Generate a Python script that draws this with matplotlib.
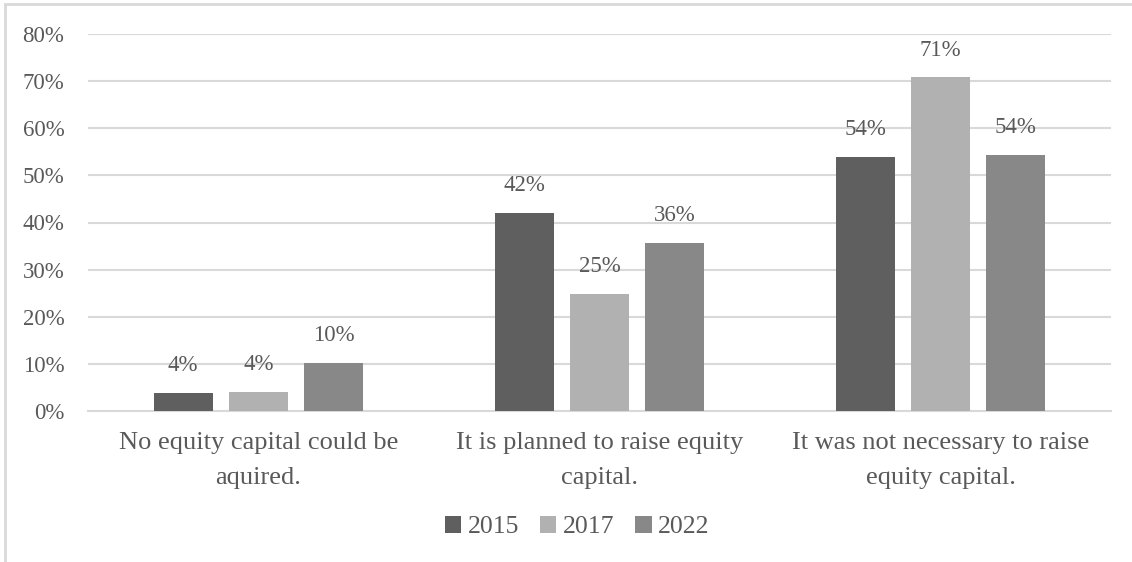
import numpy as np
import matplotlib.pyplot as plt
from matplotlib.patches import Rectangle

plt.rcParams['font.family'] = ['Liberation Serif', 'DejaVu Serif']

categories = ['No equity capital could be\naquired.',
              'It is planned to raise equity\ncapital.',
              'It was not necessary to raise\nequity capital.']
years = ['2015', '2017', '2022']
shares = {
    '2015': [0.039, 0.42, 0.54],
    '2017': [0.041, 0.249, 0.708],
    '2022': [0.102, 0.357, 0.543],
}
colors = ['#5f5f5f', '#b1b1b1', '#888888']
text_col = '#595959'

fig = plt.figure(figsize=(11.32, 5.62), dpi=100)
ax = fig.add_axes([88 / 1132, 1 - 411 / 562, (1111 - 88) / 1132, (411 - 34) / 562])

# outer chart border, running off the right and bottom edges
fig.patches.append(Rectangle((5 / 1132, -0.1), 1.2, 1 - 4 / 562 + 0.1,
                             transform=fig.transFigure, fill=False,
                             edgecolor='#d9d9d9', linewidth=2))

x = np.arange(len(categories))
width = 0.173
step = 0.221
for i, (yr, c) in enumerate(zip(years, colors)):
    vals = shares[yr]
    bars = ax.bar(x + (i - 1) * step, vals, width, color=c, label=yr, zorder=3)
    for b, v in zip(bars, vals):
        ax.annotate(f'{v:.0%}', (b.get_x() + b.get_width() / 2, v),
                    xytext=(0, 12), textcoords='offset points',
                    ha='center', va='bottom', fontsize=16.5, color=text_col)

ax.set_xlim(-0.5, 2.5)
ax.set_ylim(0, 0.8)
ax.set_yticks(np.arange(0, 0.81, 0.1))
ax.set_yticklabels([f'{t:.0%}' for t in np.arange(0, 0.81, 0.1)])
ax.yaxis.grid(True, color='#d9d9d9', linewidth=1.5, zorder=0)
ax.tick_params(axis='y', length=0, pad=17, labelsize=16.5, labelcolor=text_col)

# category names as wrapped text under each group
ax.set_xticks(x)
ax.set_xticklabels([])
ax.tick_params(axis='x', length=0)
for xi, cat in zip(x, categories):
    ax.annotate(cat, (xi, 0), xycoords=('data', 'axes fraction'),
                xytext=(0, -15), textcoords='offset points',
                ha='center', va='top', fontsize=19, color=text_col,
                linespacing=1.8, annotation_clip=False)

for s in ['top', 'right', 'left']:
    ax.spines[s].set_visible(False)
ax.spines['bottom'].set_color('#d9d9d9')
ax.spines['bottom'].set_linewidth(1.5)

fig.legend(loc='center', bbox_to_anchor=(577 / 1132, 1 - 527 / 562), ncol=3,
           frameon=False, fontsize=18.5, labelcolor=text_col,
           handlelength=0.65, handleheight=0.65, handletextpad=0.25,
           columnspacing=0.8)

fig.savefig('out.png', dpi=100)
